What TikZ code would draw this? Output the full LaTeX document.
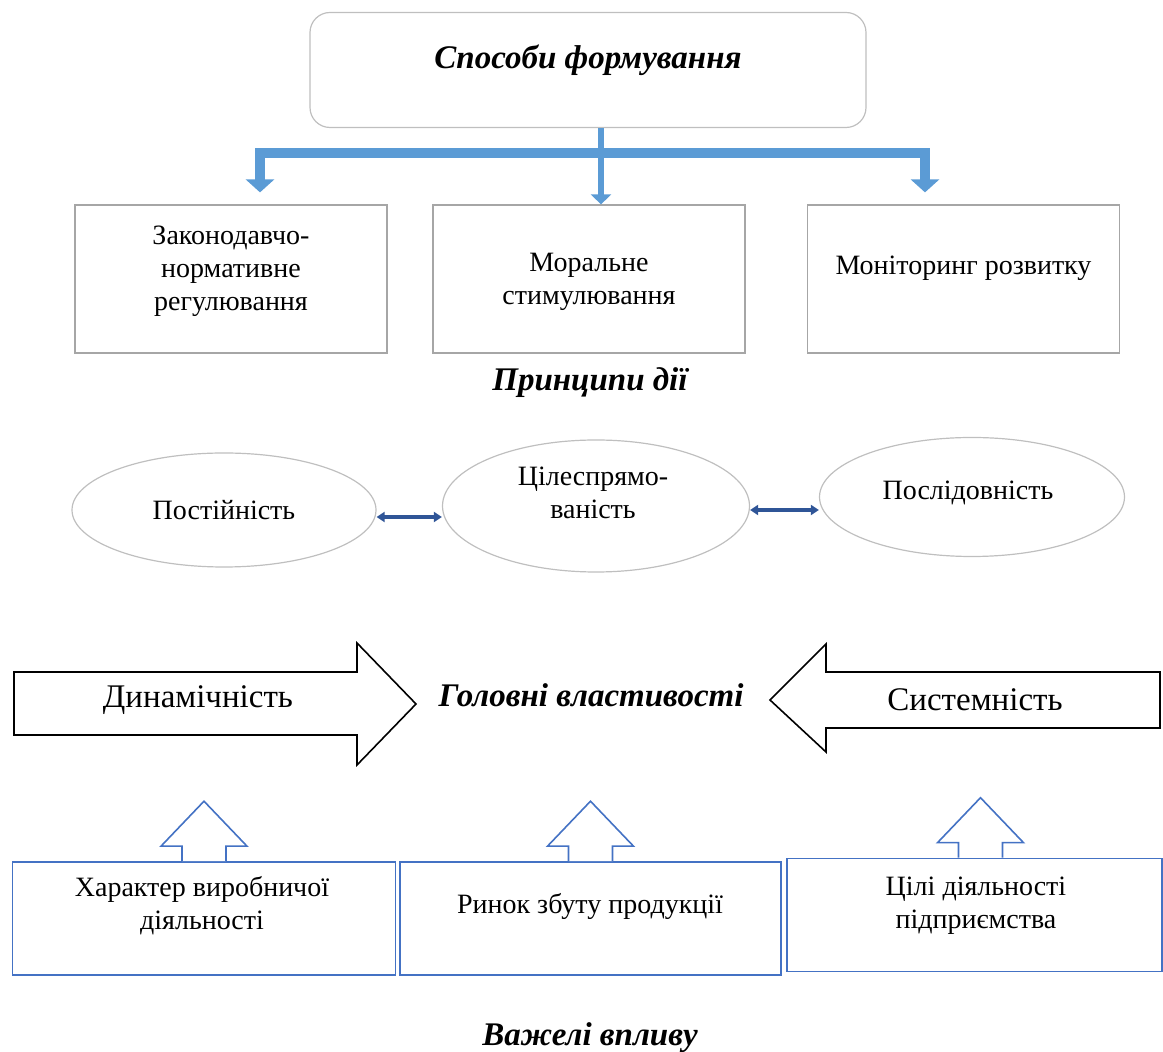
\documentclass[tikz,border=0pt]{standalone}
\usepackage{fontspec}
\setmainfont{Liberation Serif}
\usetikzlibrary{arrows.meta,shapes.geometric}
\definecolor{boxgray}{HTML}{A6A6A6}
\definecolor{ovalgray}{HTML}{BFBFBF}
\definecolor{barblue}{HTML}{5B9BD5}
\definecolor{linkblue}{HTML}{2F5597}
\definecolor{leverblue}{HTML}{4472C4}
\tikzset{
  pbox/.style={draw=boxgray, line width=0.6pt, minimum width=156pt, minimum height=74pt, inner sep=0pt},
  oval/.style={ellipse, draw=ovalgray, line width=0.6pt, inner sep=0pt},
  lbox/.style={draw=leverblue, line width=0.8pt, minimum height=56.5pt, inner sep=0pt},
  txt/.style={font=\fontsize{14}{16.5}\selectfont, align=center, inner sep=0pt},
  head/.style={font=\fontsize{16.5}{19}\selectfont\bfseries\itshape, inner sep=0pt},
  bigtxt/.style={font=\fontsize{16.5}{19}\selectfont, inner sep=0pt},
  bluebar/.style={draw=barblue, line width=5pt},
  link/.style={draw=linkblue, line width=1.6pt, {Triangle[width=5pt,length=4pt]}-{Triangle[width=5pt,length=4pt]}},
  lever/.style={draw=leverblue, line width=0.8pt, fill=white},
}
\begin{document}
\begin{tikzpicture}[x=0.5pt,y=-0.5pt]
  \useasboundingbox (0,0) rectangle (1163,1052);
  % ways of forming
  \node[draw=ovalgray, line width=0.6pt, rounded corners=10pt, minimum width=278pt, minimum height=57.5pt] (fz) at (588,70) {};
  \node[head] (fzt) at (588,60) {Способи формування};
  \node[pbox] (b1) at (231,279) {};
  \node[pbox] (b2) at (589,279) {};
  \node[pbox] (b3) at (963.5,279) {};
  \node[txt] (t1) at (231,271) {Законодавчо-\\нормативне\\регулювання};
  \node[txt] (t2) at (589,281.5) {Моральне\\стимулювання};
  \node[txt] (t3) at (963.5,268) {Моніторинг розвитку};
  \draw[bluebar, {Triangle[width=14pt,length=6.5pt]}-{Triangle[width=14pt,length=6.5pt]}]
    ([shift={(14.5pt,6pt)}]b1.north) |- ([yshift=-12.5pt]fz.south) -| ([shift={(-19.25pt,6pt)}]b3.north);
  \draw[draw=barblue, line width=3pt, -{Triangle[width=10pt,length=5pt]}]
    ([xshift=6.5pt]fz.south) -- ([xshift=6pt]b2.north);
  \node[head] (pd) at (590,383) {Принципи дії};
  % principles
  \node[oval, minimum width=152pt, minimum height=57pt] (e1) at (224,510) {};
  \node[oval, minimum width=153.5pt, minimum height=66pt] (e2) at (596,506) {};
  \node[oval, minimum width=152.5pt, minimum height=59.5pt] (e3) at (972,497) {};
  \node[txt] (te1) at (224,510) {Постійність};
  \node[txt] (te2) at (593,493) {Цілеспрямо-\\ваність};
  \node[txt] (te3) at (968,493) {Послідовність};
  \draw[link] ([yshift=-3.5pt]e1.east) -- ([yshift=-5.5pt]e2.west);
  \draw[link] ([yshift=-2pt]e2.east) -- ([yshift=-6.5pt]e3.west);
  % main properties
  \draw[line width=0.8pt] (14,672) -- (357,672) -- (357,643) -- (416,704) -- (357,765) -- (357,735) -- (14,735) -- cycle;
  \draw[line width=0.8pt] (1160,672) -- (826,672) -- (826,644) -- (770,700) -- (826,752) -- (826,728) -- (1160,728) -- cycle;
  \node[bigtxt] (dyn) at (198,700) {Динамічність};
  \node[head] (gv) at (591,695) {Головні властивості};
  \node[bigtxt] (sys) at (975,700) {Системність};
  % levers
  \node[lbox, minimum width=191.5pt] (l1) at (204,918.5) {};
  \node[lbox, minimum width=190.5pt] (l2) at (590.5,918.5) {};
  \node[lbox, minimum width=187.5pt] (l3) at (974.5,915) {};
  \path[lever] ([xshift=-11pt]l1.north) -- ++(0,-15) -- ++(-21,0) -- ++(43,-45) -- ++(43,45) -- ++(-21,0) -- ++(0,15);
  \path[lever] ([xshift=-11pt]l2.north) -- ++(0,-15) -- ++(-21,0) -- ++(43,-45) -- ++(43,45) -- ++(-21,0) -- ++(0,15);
  \path[lever] ([xshift=-8pt]l3.north) -- ++(0,-15) -- ++(-21,0) -- ++(43,-45) -- ++(43,45) -- ++(-21,0) -- ++(0,15);
  \node[txt] (tl1) at (202,905.5) {Характер виробничої\\діяльності};
  \node[txt] (tl2) at (590,907) {Ринок збуту продукції};
  \node[txt] (tl3) at (976,905.5) {Цілі діяльності\\підприємства};
  \node[head] (vv) at (590,1038) {Важелі впливу};
\end{tikzpicture}
\end{document}
